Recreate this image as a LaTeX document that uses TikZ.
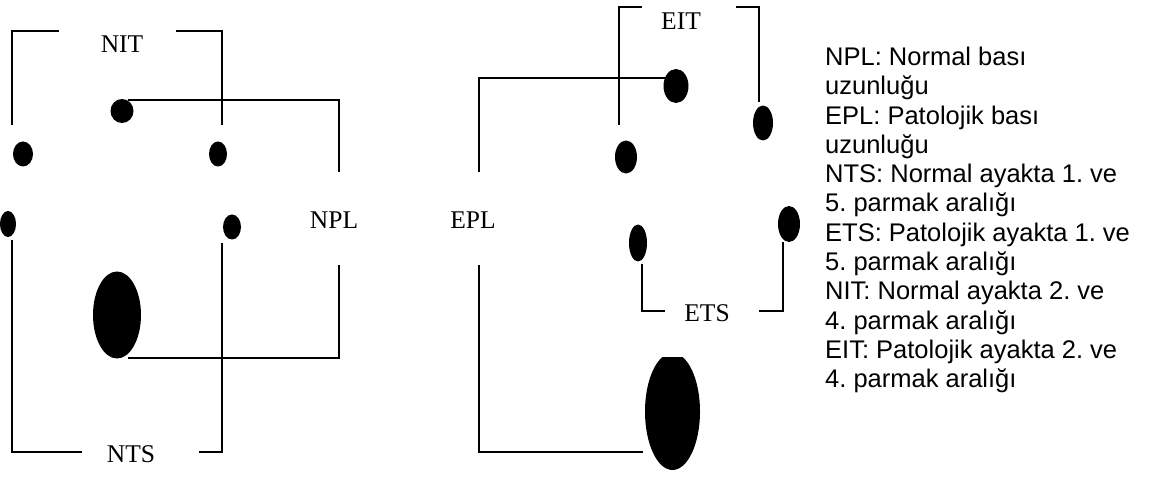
\documentclass[tikz,border=0pt]{standalone}
\usepackage{fontspec}
\setmainfont{Liberation Serif}
\newfontfamily\legendfont{Liberation Sans}
\usetikzlibrary{shapes.geometric}
\begin{document}
\frenchspacing
\begin{tikzpicture}[x=1pt,y=-1pt,
  bracket/.style={line width=1.8pt, line join=miter, line cap=butt},
  blob/.style={ellipse, fill=black, draw=none, inner sep=0pt},
  tag/.style={inner sep=0pt, font=\fontsize{25.5}{29.5}\selectfont},
  legend/.style={inner sep=0pt, anchor=base west, font=\legendfont\fontsize{25.5}{29.3}\selectfont}]
\useasboundingbox (0,0) rectangle (1159,478);

% ---------- normal foot ----------
\node[blob, minimum width=23pt, minimum height=24pt] (nheel) at (122,111) {};
\node[blob, minimum width=20pt, minimum height=25pt] (nleft) at (23,154) {};
\node[blob, minimum width=18pt, minimum height=25pt] (nright) at (218,154) {};
\node[blob, minimum width=16pt, minimum height=26pt] (nlowleft) at (8,224) {};
\node[blob, minimum width=18pt, minimum height=25pt] (nlowright) at (232,227) {};
\node[blob, minimum width=48pt, minimum height=87pt] (nball) at (117,315) {};

\node[tag] (nit) at (122,44) {NIT};
\node[tag] (npl) at (334,220) {NPL};
\node[tag] (nts) at (131,454) {NTS};

% NIT bracket
\coordinate (nitA) at (12,125);  \coordinate (nitB) at (12,31);   \coordinate (nitC) at (59,31);
\coordinate (nitD) at (176,31);  \coordinate (nitE) at (222,31);  \coordinate (nitF) at (222,125);
\draw[bracket] (nitA) -- (nitB) -- (nitC);
\draw[bracket] (nitD) -- (nitE) -- (nitF);

% NPL bracket
\coordinate (nplA) at (128,100); \coordinate (nplB) at (339,100); \coordinate (nplC) at (339,172);
\coordinate (nplD) at (128,358); \coordinate (nplE) at (339,358); \coordinate (nplF) at (339,265);
\draw[bracket] (nplA) -- (nplB) -- (nplC);
\draw[bracket] (nplD) -- (nplE) -- (nplF);

% NTS bracket
\coordinate (ntsA) at (12,240);  \coordinate (ntsB) at (12,452);  \coordinate (ntsC) at (82,452);
\coordinate (ntsD) at (199,452); \coordinate (ntsE) at (222,452); \coordinate (ntsF) at (222,243);
\draw[bracket] (ntsA) -- (ntsB) -- (ntsC);
\draw[bracket] (ntsD) -- (ntsE) -- (ntsF);

% ---------- pathological foot ----------
\node[blob, minimum width=25pt, minimum height=34pt] (eheel) at (676,86) {};
\node[blob, minimum width=20pt, minimum height=35pt] (eright) at (763,123) {};
\node[blob, minimum width=22pt, minimum height=33pt] (eleft) at (626,157) {};
\node[blob, minimum width=22pt, minimum height=36pt] (elowright) at (789,224) {};
\node[blob, minimum width=18pt, minimum height=37pt] (elowleft) at (638,243) {};
\begin{scope}
  \clip (600,357) rectangle (760,478);
  \node[blob, minimum width=55pt, minimum height=117pt] (eball) at (672.5,411.5) {};
\end{scope}

\node[tag] (eit) at (681,21) {EIT};
\node[tag] (epl) at (473,220) {EPL};
\node[tag] (ets) at (707,313) {ETS};

% EIT bracket
\coordinate (eitA) at (619,125); \coordinate (eitB) at (619,7);   \coordinate (eitC) at (642,7);
\coordinate (eitD) at (736,7);   \coordinate (eitE) at (759,7);   \coordinate (eitF) at (759,102);
\draw[bracket] (eitA) -- (eitB) -- (eitC);
\draw[bracket] (eitD) -- (eitE) -- (eitF);

% EPL bracket
\coordinate (eplA) at (667,78);  \coordinate (eplB) at (479,78);  \coordinate (eplC) at (479,172);
\coordinate (eplD) at (479,265); \coordinate (eplE) at (479,452); \coordinate (eplF) at (643,452);
\draw[bracket] (eplA) -- (eplB) -- (eplC);
\draw[bracket] (eplD) -- (eplE) -- (eplF);

% ETS bracket
\coordinate (etsA) at (642,264); \coordinate (etsB) at (642,311); \coordinate (etsC) at (665,311);
\coordinate (etsD) at (759,311); \coordinate (etsE) at (783,311); \coordinate (etsF) at (783,242);
\draw[bracket] (etsA) -- (etsB) -- (etsC);
\draw[bracket] (etsD) -- (etsE) -- (etsF);

% ---------- legend ----------
\foreach \t [count=\i from 0] in {
  NPL: Normal bası, uzunluğu,
  EPL: Patolojik bası, uzunluğu,
  NTS: Normal ayakta 1. ve, 5. parmak aralığı,
  ETS: Patolojik ayakta 1. ve, 5. parmak aralığı,
  NIT: Normal ayakta 2. ve, 4. parmak aralığı,
  EIT: Patolojik ayakta 2. ve, 4. parmak aralığı}
  \node[legend] (leg\i) at (825, {65.5+29.3*\i}) {\t};
\end{tikzpicture}
\end{document}
